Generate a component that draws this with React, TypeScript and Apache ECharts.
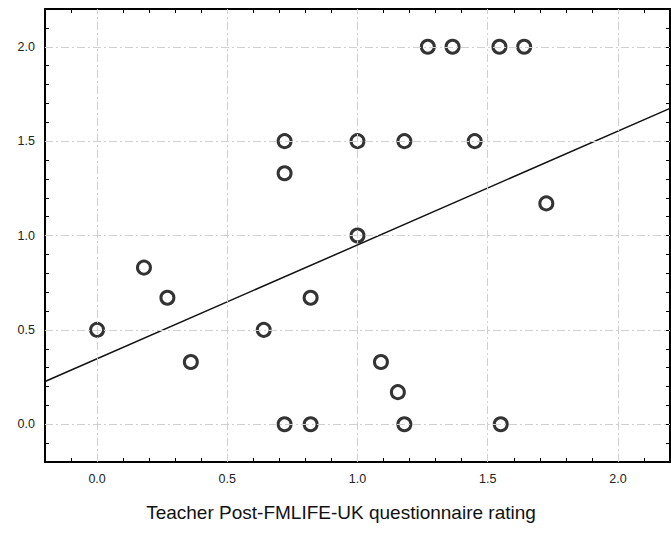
import React, { useEffect, useRef } from "react";
import * as echarts from "echarts";

const xTicks = [0.0, 0.5, 1.0, 1.5, 2.0];
const pointsX = [0.0, 0.18, 0.27, 0.36, 0.64, 0.72, 0.72, 0.72, 0.82, 0.82, 1.0, 1.0, 1.09, 1.155, 1.18, 1.18, 1.27, 1.365, 1.45, 1.545, 1.64, 1.55, 1.725];
const pointsY = [0.5, 0.83, 0.67, 0.33, 0.5, 1.5, 1.33, 0.0, 0.0, 0.67, 1.5, 1.0, 0.33, 0.17, 0.0, 1.5, 2.0, 2.0, 1.5, 2.0, 2.0, 0.0, 1.17];
const fitIntercept = 0.347;
const fitSlope = 0.603;
const axisMin = -0.2;
const axisMax = 2.2;
const xTitle = "Teacher Post-FMLIFE-UK questionnaire rating";

export default function App() {
  const ref = useRef<HTMLDivElement>(null);
  useEffect(() => {
    document.body.style.margin = "0";
    const chart = echarts.init(ref.current!, undefined, { renderer: "svg" });
    const scatter = pointsX.map((x, i) => [x, pointsY[i]]);
    const fit = [axisMin, axisMax].map((x) => [x, fitIntercept + fitSlope * x]);
    const fmt = (v: number) => (xTicks.some((t) => Math.abs(t - v) < 1e-6) ? v.toFixed(1) : "");
    const gridLine = { color: "#d0d0d0", width: 1, type: [8, 3, 2, 3] as any };
    const labelStyle = { color: "#222", fontSize: 12.5, fontFamily: "Arial, Liberation Sans", margin: 10, hideOverlap: false, showMinLabel: false, showMaxLabel: false };
    const axisCommon = {
      type: "value" as const,
      min: axisMin,
      max: axisMax,
      interval: 0.1,
      axisLine: { show: true, onZero: false, lineStyle: { color: "#000", width: 2 } },
      axisTick: { show: true, inside: true, length: 4, lineStyle: { color: "#000", width: 1 } },
      minorTick: { show: false },
      splitLine: { show: false },
    };
    chart.setOption({
      animation: false,
      backgroundColor: "#fff",
      grid: { left: 45, top: 9, right: 1, bottom: 86 },
      xAxis: [
        { ...axisCommon, position: "bottom", axisLabel: { show: true, formatter: fmt, interval: 0, ...labelStyle } },
        { ...axisCommon, position: "top", axisLabel: { show: false } },
      ],
      yAxis: [
        { ...axisCommon, position: "left", axisLabel: { show: true, formatter: fmt, interval: 0, ...labelStyle } },
        { ...axisCommon, position: "right", axisLabel: { show: false } },
      ],
      graphic: [
        {
          type: "text",
          x: 341,
          y: 512,
          style: { text: xTitle, fontSize: 19, fontFamily: "Arial, Liberation Sans", fill: "#111", align: "center", verticalAlign: "middle" },
        },
      ],
      series: [
        {
          type: "line",
          data: [],
          markLine: {
            silent: true,
            symbol: "none",
            label: { show: false },
            lineStyle: gridLine,
            data: [
              ...xTicks.map((v) => ({ xAxis: v })),
              ...xTicks.map((v) => ({ yAxis: v })),
            ],
          },
        },
        {
          type: "line",
          data: fit,
          showSymbol: false,
          lineStyle: { color: "#111", width: 1.5 },
          z: 3,
        },
        {
          type: "scatter",
          data: scatter,
          symbol: "circle",
          symbolSize: 13,
          itemStyle: { color: "#fff", borderColor: "#000", borderWidth: 3 },
          z: 4,
        },
      ],
    });
    return () => chart.dispose();
  }, []);
  return <div ref={ref} style={{ width: 671, height: 548 }} />;
}
